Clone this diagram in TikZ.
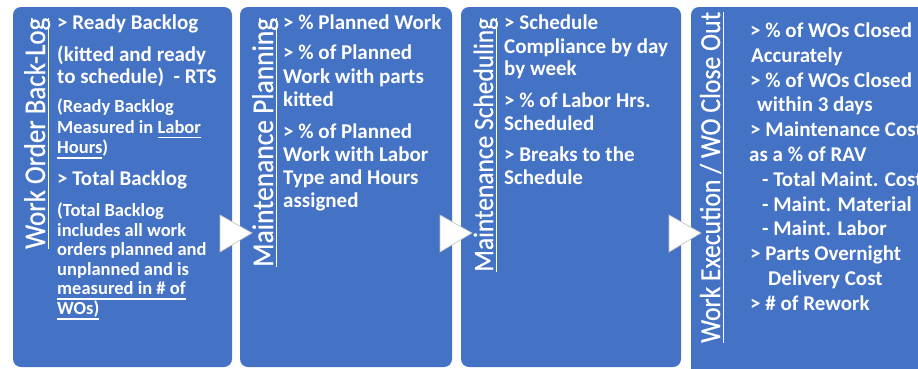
\documentclass[tikz,border=0pt]{standalone}
\usepackage{fontspec}
\usepackage{graphicx}
\setmainfont{Carlito}
\newfontfamily\stagefont{Carlito}[FakeBold=0.6]
\usetikzlibrary{calc}

\definecolor{stageblue}{RGB}{68,114,196}
\definecolor{tipedge}{RGB}{196,196,196}

% underline drawn as a rule below the baseline
\newcommand\ulb[2][3.5pt]{\setbox0\hbox{#2}\rlap{\vrule width\wd0 height -#1 depth \dimexpr#1+1.6pt\relax}\box0}

% stage title: set at a given size, then narrowed to run a given length
\newlength\fitwd
\newcommand\fitline[3]{%
  \stagefont\fontsize{#1pt}{#1pt}\selectfont
  \settowidth\fitwd{#3}%
  \pgfmathsetmacro\fitscale{#2/\fitwd}%
  \scalebox{\fitscale}[1]{\ulb[2.5pt]{#3}}}

\begin{document}
\begin{tikzpicture}[x=1pt,y=-1pt,
  stage/.style={fill=stageblue, rounded corners=8pt, inner sep=0pt, outer sep=0pt,
                anchor=north west, minimum height=360pt},
  stagetitle/.style={text=white, rotate=90, anchor=base west, inner sep=0pt},
  bigline/.style={text=white, anchor=base west, inner sep=0pt,
                  font=\bfseries\fontsize{21pt}{23pt}\selectfont},
  smallline/.style={bigline, font=\bfseries\fontsize{18.5pt}{20pt}\selectfont},
  flowtip/.style={fill=white, draw=tipedge, line width=0.7pt, line join=miter}]

\useasboundingbox (0,0) rectangle (918,368);
\clip (0,0) rectangle (918,368);

% the four stages
\node[stage, minimum width=219pt] (b1) at (13,7) {};
\node[stage, minimum width=212pt] (b2) at (240,7) {};
\node[stage, minimum width=220pt] (b3) at (461,7) {};
\node[stage, minimum width=262pt, minimum height=380pt] (b4) at (691,7) {};

% flow arrows between neighbouring stages
\foreach \s in {b1,b2,b3}
  \draw[flowtip] ($(\s.north east)+(-12,208)$) -- ($(\s.north east)+(20,226)$)
                 -- ($(\s.north east)+(-12,245)$) -- cycle;

% vertical stage titles
\node[stagetitle] (t1) at (45,249)  {\fitline{30}{231}{Work Order Back-Log}};
\node[stagetitle] (t2) at (273,267) {\fitline{30}{249}{Maintenance Planning}};
\node[stagetitle] (t3) at (493,272) {\fitline{28}{254}{Maintenance Scheduling}};
\node[stagetitle] (t4) at (720,343) {\fitline{29}{331}{Work Execution / WO Close Out}};

% Work Order Back-Log
\foreach \st/\yy/\txt [count=\i] in {
    bigline/29/{> Ready Backlog},
    bigline/61.5/{(kitted and ready},
    bigline/83.5/{to schedule)\ \ - RTS},
    smallline/112/{(Ready Backlog},
    smallline/133/{Measured in \ulb{Labor}},
    smallline/153.5/{\ulb{Hours})},
    bigline/185/{> Total Backlog},
    smallline/216.5/{(Total Backlog},
    smallline/236/{includes all work},
    smallline/255.5/{orders planned and},
    smallline/275/{unplanned and is},
    smallline/294.5/{\ulb{measured in \# of}},
    smallline/314.5/{\ulb{WOs)}}}
  \node[\st] (w\i) at (57,\yy) {\txt};

% Maintenance Planning
\foreach \yy/\txt [count=\i] in {
    29/{> \% Planned Work},
    59/{> \% of Planned},
    83/{Work with parts},
    106/{kitted},
    138/{> \% of Planned},
    161/{Work with Labor},
    184/{Type and Hours},
    207/{assigned}}
  \node[bigline] (p\i) at (283,\yy) {\txt};

% Maintenance Scheduling
\foreach \yy/\txt [count=\i] in {
    29/{> Schedule},
    53/{Compliance by day},
    75/{by week},
    107/{> \% of Labor Hrs.},
    130/{Scheduled},
    161/{> Breaks to the},
    184/{Schedule}}
  \node[bigline] (s\i) at (504,\yy) {\txt};

% Work Execution / WO Close Out
\foreach \xx/\txt [count=\i] in {
    750/{> \% of WOs Closed},
    751/{Accurately},
    750/{> \% of WOs Closed},
    757/{within 3 days},
    750/{> Maintenance Cost},
    749/{as a \% of RAV},
    762/{- Total Maint. Cost},
    762/{- Maint. Material},
    762/{- Maint. Labor},
    750/{> Parts Overnight},
    768/{Delivery Cost},
    750/{> \# of Rework}}
  \node[bigline] (e\i) at (\xx,{37.5+24.8*(\i-1)}) {\txt};

\end{tikzpicture}
\end{document}
